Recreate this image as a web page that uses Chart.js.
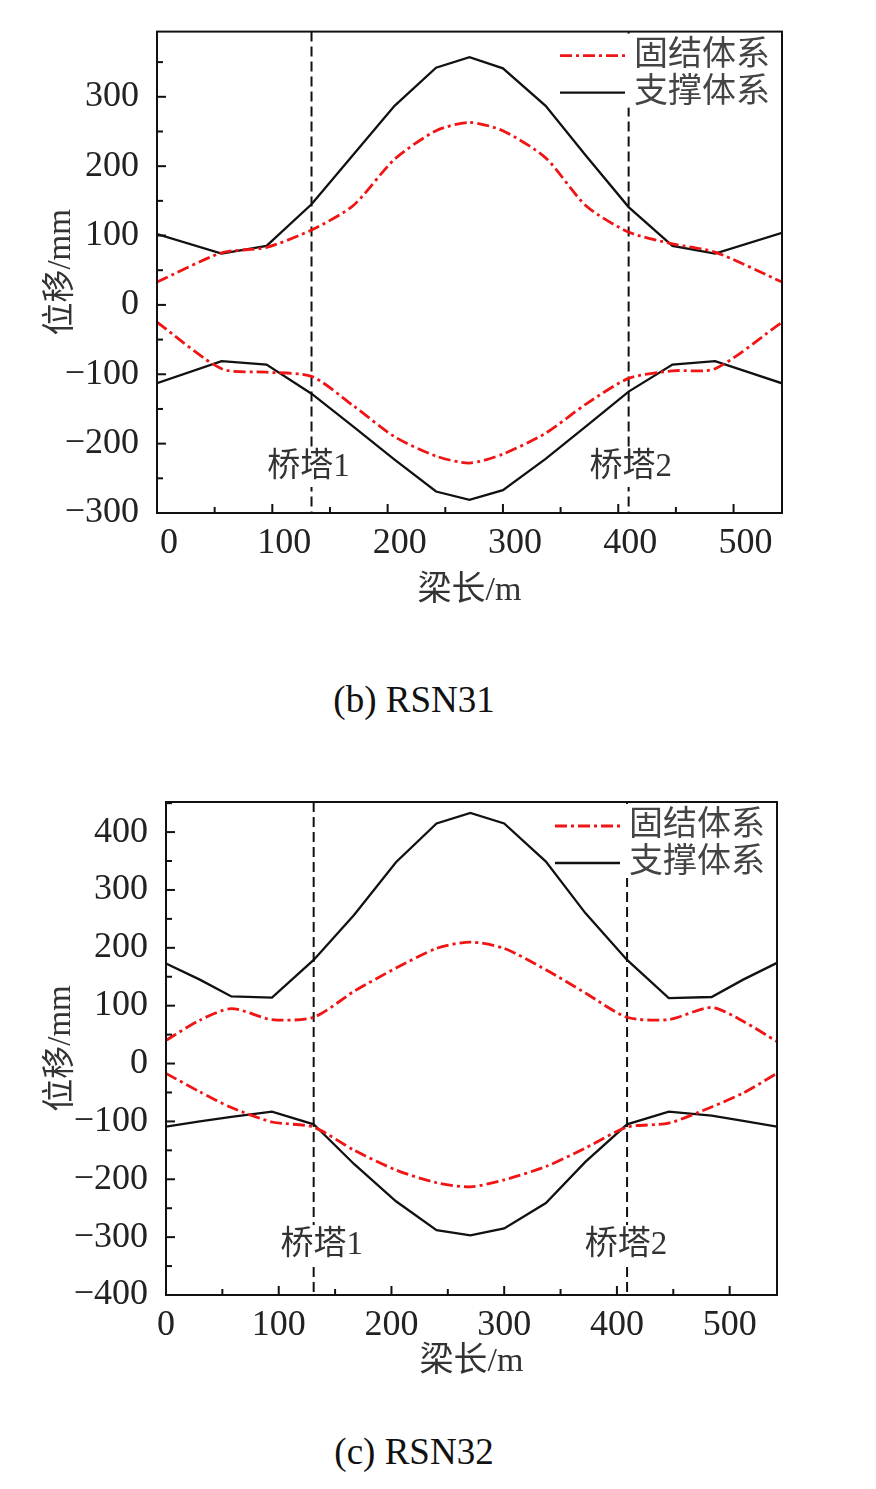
<!DOCTYPE html>
<html>
<head>
<meta charset="utf-8">
<script src="https://cdn.jsdelivr.net/npm/chart.js@4.4.1/dist/chart.umd.min.js"></script>
<style>
body { margin: 0; background: #fff; width: 876px; height: 1489px; position: relative; overflow: hidden; }
canvas { position: absolute; left: 0; }
.cap { position: absolute; left: 0; width: 828px; text-align: center; font: 37px "Liberation Serif", serif; color: #111; line-height: 40px; }
</style>
</head>
<body>
<canvas id="c31" width="876" height="640" style="top:0"></canvas>
<div class="cap" style="top:680px">(b) RSN31</div>
<canvas id="c32" width="876" height="640" style="top:760px"></canvas>
<div class="cap" style="top:1432px">(c) RSN32</div>
<script>
// RSN31 - beam position (m) and displacement envelopes (mm)
const rsn31X = [0, 56, 95, 134, 170, 206, 242, 271, 300, 337, 372, 409, 447, 484, 542];
const rsn31FixedUp = [33, 75, 83, 108, 143, 210, 251, 263, 251, 212, 143, 105, 88, 76, 33];
const rsn31FixedDown = [-25, -92, -97, -103, -145, -190, -218, -228, -215, -185, -143, -106, -95, -92, -25];
const rsn31BraceUp = [102, 74, 85, 145, 216, 287, 342, 357, 341, 287, 215, 141, 85, 74, 104];
const rsn31BraceDown = [-113, -81, -86, -128, -175, -223, -269, -281, -267, -222, -175, -125, -86, -81, -113];
const rsn31Towers = [134, 409];
const rsn31YTicks = [-300, -200, -100, 0, 100, 200, 300];

// RSN32
const rsn32X = [0, 30, 58, 94, 131, 167, 204, 240, 270, 300, 337, 372, 409, 446, 484, 512, 542];
const rsn32FixedUp = [40, 75, 95, 76, 80, 125, 165, 199, 210, 199, 162, 122, 80, 76, 97, 73, 38];
const rsn32FixedDown = [-17, -49, -76, -101, -110, -150, -184, -206, -213, -201, -178, -146, -110, -103, -75, -51, -17];
const rsn32BraceUp = [173, 145, 116, 114, 179, 257, 348, 415, 433, 415, 349, 260, 179, 113, 115, 145, 174];
const rsn32BraceDown = [-109, -100, -92, -83, -105, -174, -238, -288, -297, -285, -241, -170, -105, -83, -90, -99, -109];
const rsn32Towers = [131, 409];
const rsn32YTicks = [-400, -300, -200, -100, 0, 100, 200, 300, 400];

const xTicks = [0, 100, 200, 300, 400, 500];
const towerLabels = ['桥塔1', '桥塔2'];
const seriesNames = ['固结体系', '支撑体系'];
const xTitle = '梁长/m';
const yTitle = '位移/mm';

const RED = '#f01414';
const RED_DASH = [12, 4, 3, 4];
const FONT = '"Liberation Serif", "Noto Sans CJK SC", serif';

const pts = (xs, ys) => xs.map((x, i) => ({ x: x, y: ys[i] }));

// towers, labels and legend drawn under the curves
const overlay = {
    id: 'overlay',
    beforeDatasetsDraw(chart, args, o) {
        const { ctx, chartArea: a, scales: { x } } = chart;
        ctx.save();
        // dashed tower lines
        ctx.strokeStyle = '#111';
        ctx.lineWidth = 2;
        ctx.setLineDash([10, 5]);
        o.towers.forEach(t => {
            const px = x.getPixelForValue(t);
            ctx.beginPath();
            ctx.moveTo(px, a.top);
            ctx.lineTo(px, a.bottom);
            ctx.stroke();
        });
        ctx.setLineDash([]);
        // tower labels
        ctx.font = '33px ' + FONT;
        ctx.textAlign = 'center';
        ctx.textBaseline = 'middle';
        o.towers.forEach((t, i) => {
            const px = x.getPixelForValue(t) + o.labelDx[i];
            const py = a.bottom + o.labelDy;
            const w = ctx.measureText(towerLabels[i]).width;
            ctx.fillStyle = '#fff';
            ctx.fillRect(px - w / 2 - 4, py - 20, w + 8, 40);
            ctx.fillStyle = '#333';
            ctx.fillText(towerLabels[i], px, py);
        });
        // legend
        ctx.fillStyle = '#fff';
        ctx.fillRect(a.right - 160, a.top + 2, 158, 74);
        const rows = [a.top + 24, a.top + 61];
        ctx.lineWidth = 2.8;
        ctx.strokeStyle = RED;
        ctx.setLineDash(RED_DASH);
        ctx.beginPath();
        ctx.moveTo(a.right - 222, rows[0]);
        ctx.lineTo(a.right - 157, rows[0]);
        ctx.stroke();
        ctx.setLineDash([]);
        ctx.lineWidth = 2.3;
        ctx.strokeStyle = '#111';
        ctx.beginPath();
        ctx.moveTo(a.right - 222, rows[1]);
        ctx.lineTo(a.right - 157, rows[1]);
        ctx.stroke();
        ctx.font = '34px ' + FONT;
        ctx.textAlign = 'left';
        ctx.fillStyle = '#444';
        ctx.fillText(seriesNames[0], a.right - 148, rows[0]);
        ctx.fillText(seriesNames[1], a.right - 148, rows[1]);
        ctx.restore();
    },
    afterDatasetsDraw(chart) {
        const { ctx, chartArea: a, scales: { x, y } } = chart;
        ctx.save();
        ctx.strokeStyle = '#111';
        ctx.lineWidth = 2;
        ctx.strokeRect(a.left, a.top, a.right - a.left, a.bottom - a.top);
        // inward ticks, minor every 50
        for (let v = Math.ceil(y.min / 50) * 50; v <= y.max; v += 50) {
            const py = y.getPixelForValue(v);
            const len = v % 100 === 0 ? 9 : 6;
            ctx.beginPath();
            ctx.moveTo(a.left, py);
            ctx.lineTo(a.left + len, py);
            ctx.stroke();
        }
        for (let v = Math.ceil(x.min / 50) * 50; v <= x.max; v += 50) {
            const px = x.getPixelForValue(v);
            const len = v % 100 === 0 ? 9 : 6;
            ctx.beginPath();
            ctx.moveTo(px, a.bottom);
            ctx.lineTo(px, a.bottom - len);
            ctx.stroke();
        }
        ctx.restore();
    }
};

function makeChart(id, xs, fixedUp, fixedDown, braceUp, braceDown, yTicks, cfg) {
    const red = { borderColor: RED, borderWidth: 2.8, borderDash: RED_DASH, tension: 0.25, pointRadius: 0, fill: false };
    const black = { borderColor: '#111', borderWidth: 2.3, tension: 0, pointRadius: 0, fill: false };
    return new Chart(document.getElementById(id), {
        type: 'line',
        data: {
            datasets: [
                Object.assign({ label: seriesNames[0], data: pts(xs, fixedUp) }, red),
                Object.assign({ label: seriesNames[0], data: pts(xs, fixedDown) }, red),
                Object.assign({ label: seriesNames[1], data: pts(xs, braceUp) }, black),
                Object.assign({ label: seriesNames[1], data: pts(xs, braceDown) }, black)
            ]
        },
        options: {
            responsive: false,
            animation: false,
            layout: { padding: { left: 0, top: cfg.top, right: cfg.right, bottom: 0 } },
            plugins: {
                legend: { display: false },
                tooltip: { enabled: false },
                overlay: { towers: cfg.towers, labelDx: cfg.labelDx, labelDy: cfg.labelDy }
            },
            scales: {
                x: {
                    type: 'linear',
                    min: 0,
                    max: 542,
                    grid: { display: false },
                    border: { display: false },
                    afterBuildTicks: s => { s.ticks = xTicks.map(v => ({ value: v })); },
                    ticks: { padding: 1, labelOffset: cfg.xLabelOffset, color: '#222', font: { family: FONT, size: 36 } },
                    title: { display: true, text: xTitle, color: '#333', font: { family: FONT, size: 34 }, padding: { top: 0, bottom: cfg.xTitlePad } },
                    afterFit: s => { s.height = cfg.xHeight; }
                },
                y: {
                    min: cfg.yMin,
                    max: cfg.yMax,
                    grid: { display: false },
                    border: { display: false },
                    afterBuildTicks: s => { s.ticks = yTicks.map(v => ({ value: v })); },
                    ticks: {
                        padding: 10, color: '#222',
                        font: { family: FONT, size: 36 },
                        callback: v => (v < 0 ? '\u2212' + Math.abs(v) : '' + v)
                    },
                    title: { display: true, text: yTitle, color: '#333', font: { family: FONT, size: 33 }, padding: { top: 42, bottom: 0 } },
                    afterFit: s => { s.width = cfg.yWidth; }
                }
            }
        },
        plugins: [overlay]
    });
}

makeChart('c31', rsn31X, rsn31FixedUp, rsn31FixedDown, rsn31BraceUp, rsn31BraceDown, rsn31YTicks, {
    top: 31, right: 94, yWidth: 157, xHeight: 127, xTitlePad: 29, xLabelOffset: 12,
    yMin: -300, yMax: 394, towers: rsn31Towers, labelDx: [-3, 2], labelDy: -46
});

makeChart('c32', rsn32X, rsn32FixedUp, rsn32FixedDown, rsn32BraceUp, rsn32BraceDown, rsn32YTicks, {
    top: 42, right: 99, yWidth: 166, xHeight: 105, xTitlePad: 18, xLabelOffset: 0,
    yMin: -400, yMax: 452, towers: rsn32Towers, labelDx: [8, -1], labelDy: -50
});
</script>
</body>
</html>
